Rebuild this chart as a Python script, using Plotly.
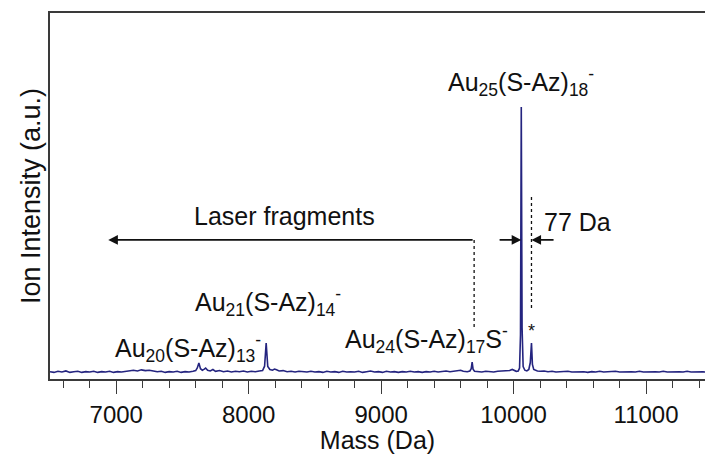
import plotly.graph_objects as go

# MALDI mass spectrum of Au25(S-Az)18 and its laser fragments
mass = [6500, 6530, 6560, 6590, 6620, 6650, 6680, 6710, 6740, 6770, 6800, 6830, 6860, 6890,
        6920, 6950, 6980, 7010, 7040, 7070, 7100, 7130, 7160, 7190, 7220, 7250, 7280, 7310,
        7340, 7370, 7400, 7430, 7460, 7490, 7520, 7550, 7580, 7600, 7612, 7624, 7636, 7650,
        7665, 7675, 7690, 7710, 7730, 7750, 7780, 7810, 7840, 7870, 7900, 7930, 7960, 7990,
        8020, 8050, 8080, 8105, 8120, 8132, 8144, 8160, 8180, 8195, 8210, 8230, 8260, 8290,
        8320, 8350, 8380, 8410, 8440, 8470, 8500, 8530, 8560, 8590, 8620, 8650, 8680, 8710,
        8740, 8770, 8800, 8830, 8860, 8890, 8920, 8950, 8980, 9010, 9040, 9070, 9100, 9130,
        9160, 9190, 9220, 9250, 9280, 9310, 9340, 9370, 9400, 9430, 9460, 9490, 9520, 9550,
        9580, 9600, 9620, 9650, 9670, 9680, 9687, 9694, 9705, 9730, 9760, 9790, 9820, 9850,
        9880, 9910, 9940, 9970, 9990, 10005, 10020, 10035, 10045, 10052, 10058, 10064, 10072,
        10085, 10100, 10115, 10126, 10135, 10142, 10152, 10165, 10180, 10200, 10230, 10260,
        10290, 10320, 10350, 10380, 10410, 10440, 10470, 10500, 10530, 10560, 10590, 10620,
        10650, 10680, 10710, 10740, 10770, 10800, 10830, 10860, 10890, 10920, 10950, 10980,
        11010, 11040, 11070, 11100, 11130, 11160, 11190, 11220, 11250, 11280, 11310, 11340,
        11370, 11400, 11430, 11450]

intensity = [20, 18, 21, 19, 22, 18, 20, 21, 18, 20, 19, 21, 18, 20,
             19, 21, 18, 20, 19, 21, 22, 24, 22, 25, 23, 24, 22, 20,
             21, 18, 20, 19, 21, 18, 20, 19, 21, 23, 30, 44, 28, 24,
             27, 30, 24, 22, 26, 21, 23, 20, 22, 19, 21, 20, 22, 19,
             21, 20, 22, 23, 35, 98, 34, 26, 24, 27, 25, 22, 23, 20,
             21, 19, 21, 20, 19, 21, 19, 20, 18, 21, 19, 20, 18, 21,
             19, 20, 19, 21, 18, 20, 22, 19, 20, 18, 21, 19, 20, 18,
             20, 19, 21, 19, 20, 18, 20, 19, 21, 19, 20, 22, 20, 21,
             23, 24, 21, 20, 22, 28, 46, 27, 21, 20, 19, 21, 20, 19,
             21, 22, 21, 23, 26, 23, 21, 22, 30, 120, 743, 140, 34,
             24, 22, 26, 45, 98, 40, 26, 24, 22, 21, 22, 20,
             21, 19, 20, 19, 21, 19, 20, 19, 20, 18, 20, 19,
             21, 19, 20, 19, 21, 19, 20, 19, 20, 19, 21, 19,
             20, 19, 20, 19, 21, 19, 20, 19, 20, 19, 21, 19,
             20, 19, 20, 19]

# annotation anchors (mass, intensity)
main_peak = 10058
star_peak = 10135
fragment_cut = 9702
arrow_level = 380
x_range = [6500, 11445]
y_range = [0, 1000]

ink = "#111111"
axis_col = "#3a3a3a"
font = "Liberation Sans, Arial, Helvetica, sans-serif"
fs = 25

fig = go.Figure()
fig.add_trace(go.Scatter(x=mass, y=intensity, mode="lines",
                         line=dict(color="#24247f", width=1.6), hoverinfo="skip"))

# dotted guide lines
fig.add_shape(type="line", x0=fragment_cut, x1=fragment_cut, y0=arrow_level, y1=139,
              line=dict(color=ink, width=1.3, dash="dot"))
fig.add_shape(type="line", x0=star_peak, x1=star_peak, y0=497, y1=189,
              line=dict(color=ink, width=1.3, dash="dot"))

# long arrow: laser fragments range
fig.add_annotation(x=6940, y=arrow_level, ax=fragment_cut, ay=arrow_level,
                   xref="x", yref="y", axref="x", ayref="y", text="",
                   showarrow=True, arrowhead=2, arrowsize=1.2, arrowwidth=1.6,
                   arrowcolor=ink, standoff=0, startstandoff=0)
# 77 Da spacing arrows
fig.add_annotation(x=main_peak, y=arrow_level, ax=9883, ay=arrow_level,
                   xref="x", yref="y", axref="x", ayref="y", text="",
                   showarrow=True, arrowhead=2, arrowsize=1.2, arrowwidth=1.6,
                   arrowcolor=ink, standoff=0)
fig.add_annotation(x=star_peak, y=arrow_level, ax=10313, ay=arrow_level,
                   xref="x", yref="y", axref="x", ayref="y", text="",
                   showarrow=True, arrowhead=2, arrowsize=1.2, arrowwidth=1.6,
                   arrowcolor=ink, standoff=0)

labels = [
    (10057, 812, "Au<sub>25</sub>(S-Az)<sub>18</sub><sup>-</sup>"),
    (8268, 445, "Laser fragments"),
    (10485, 429, "77 Da"),
    (star_peak, 130, "*"),
    (9340, 110, "Au<sub>24</sub>(S-Az)<sub>17</sub>S<sup>-</sup>"),
    (8147, 210, "Au<sub>21</sub>(S-Az)<sub>14</sub><sup>-</sup>"),
    (7543, 85, "Au<sub>20</sub>(S-Az)<sub>13</sub><sup>-</sup>"),
]
for x, y, t in labels:
    fig.add_annotation(x=x, y=y, xref="x", yref="y", text=t, showarrow=False,
                       font=dict(size=18 if t == "*" else fs, color=ink, family=font))

fig.update_layout(
    width=705, height=454,
    margin=dict(l=50, r=0, t=13, b=75),
    paper_bgcolor="white", plot_bgcolor="white",
    showlegend=False,
    font=dict(family=font, size=fs, color=ink),
    xaxis=dict(range=x_range, showgrid=False, zeroline=False,
               showline=True, linecolor=axis_col, linewidth=1.6, mirror=True,
               ticks="outside", ticklen=13, tickwidth=1.4, tickcolor=axis_col,
               tick0=7000, dtick=1000, tickformat="d",
               minor=dict(ticks="outside", ticklen=7, tickwidth=1.4, tickcolor=axis_col,
                          dtick=200, tick0=6600),
               tickfont=dict(size=24, color=ink),
               title=dict(text="Mass (Da)", standoff=3, font=dict(size=fs, color=ink))),
    yaxis=dict(range=y_range, showgrid=False, zeroline=False,
               showline=True, linecolor=axis_col, linewidth=1.6,
               showticklabels=False, ticks="",
               title=dict(text="Ion Intensity (a.u.)", standoff=0,
                          font=dict(size=27, color=ink))),
)

fig.write_html("out.html")
